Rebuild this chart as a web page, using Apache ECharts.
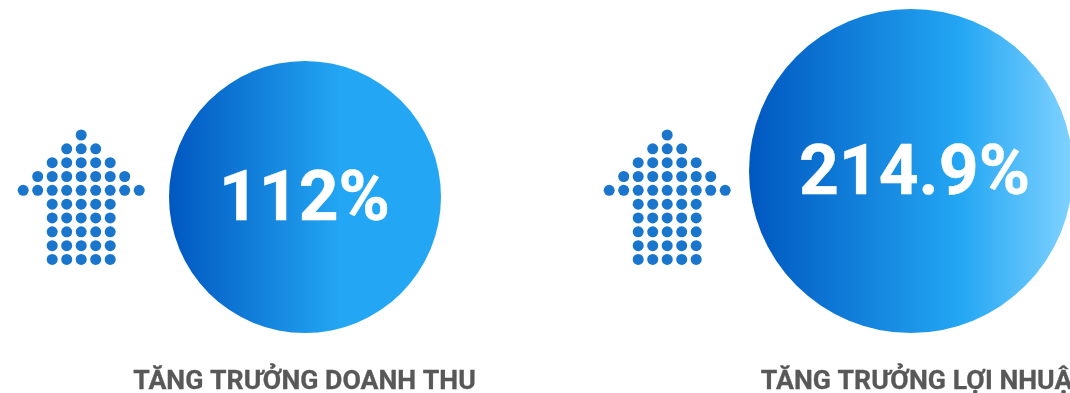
<!DOCTYPE html>
<html>
<head>
<meta charset="utf-8">
<style>html,body{margin:0;padding:0;background:#fff}#chart{width:1070px;height:393px}</style>
<script src="https://cdn.jsdelivr.net/npm/echarts@6/dist/echarts.min.js"></script>
</head>
<body>
<div id="chart"></div>
<script>
// Growth figures
const metricNames = ['TĂNG TRƯỞNG DOANH THU', 'TĂNG TRƯỞNG LỢI NHUẬN'];
const growthPercent = ['112%', '214.9%'];
// Number of dots in each row of the arrow pictogram, top to bottom
const arrowRowDots = [1, 3, 5, 7, 9, 5, 5, 5, 5, 5];

// Layout, in page pixels
const circleCentreX = [305, 911];
const circleCentreY = [197, 171];
const circleDiameter = [272, 324];
const valueTextOffset = [[-0.5, 6], [3.5, 6]];
const titleCentreX = [304.5, 926];
const titleY = 382.5;
const arrowCentreX = [81.2, 667.2];
const arrowTopY = 135;
const arrowStepX = 14.5;
const arrowStepY = 13.83;
const dotSize = 11;

const arrowDots = [];
arrowCentreX.forEach(cx => {
  arrowRowDots.forEach((count, row) => {
    for (let i = 0; i < count; i++) {
      arrowDots.push([cx + (i - (count - 1) / 2) * arrowStepX, arrowTopY + row * arrowStepY]);
    }
  });
});

const circleFill = [
  { type: 'linear', x: 0, y: 0, x2: 1, y2: 0, colorStops: [
    { offset: 0, color: '#0057c0' }, { offset: 0.63, color: '#23a6f3' }, { offset: 1, color: '#23a6f3' } ] },
  { type: 'linear', x: 0, y: 0, x2: 1, y2: 0, colorStops: [
    { offset: 0, color: '#0057c0' }, { offset: 0.65, color: '#23a6f3' }, { offset: 1, color: '#80d2ff' } ] }
];

const chart = echarts.init(document.getElementById('chart'), null, { renderer: 'canvas' });
chart.setOption({
  animation: false,
  backgroundColor: '#ffffff',
  grid: { left: 0, right: 0, top: 0, bottom: 0 },
  xAxis: { type: 'value', min: 0, max: 1070, show: false },
  yAxis: { type: 'value', min: 0, max: 393, inverse: true, show: false },
  series: [
    {
      type: 'scatter',
      clip: false,
      symbol: 'circle',
      symbolSize: dotSize,
      itemStyle: { color: '#1976cc', opacity: 1 },
      data: arrowDots
    },
    {
      type: 'scatter',
      clip: false,
      data: growthPercent.map((text, i) => ({
        value: [circleCentreX[i], circleCentreY[i]],
        symbolSize: circleDiameter[i],
        itemStyle: { color: circleFill[i], opacity: 1 },
        label: {
          show: true,
          position: 'inside',
          offset: valueTextOffset[i],
          formatter: text,
          color: '#ffffff',
          fontFamily: 'Roboto',
          fontWeight: 'bold',
          fontSize: 69.5,
          textBorderColor: '#ffffff',
          textBorderWidth: 0.5
        }
      }))
    },
    {
      type: 'scatter',
      clip: false,
      symbolSize: 1,
      itemStyle: { color: 'transparent', opacity: 1 },
      data: metricNames.map((name, i) => ({
        value: [titleCentreX[i], titleY],
        label: {
          show: true,
          position: 'inside',
          formatter: name,
          color: '#585858',
          opacity: 1,
          fontFamily: 'Roboto',
          fontWeight: 'bold',
          fontSize: 26.7,
          textBorderColor: '#585858',
          textBorderWidth: 0.3
        }
      }))
    }
  ]
});
</script>
</body>
</html>
